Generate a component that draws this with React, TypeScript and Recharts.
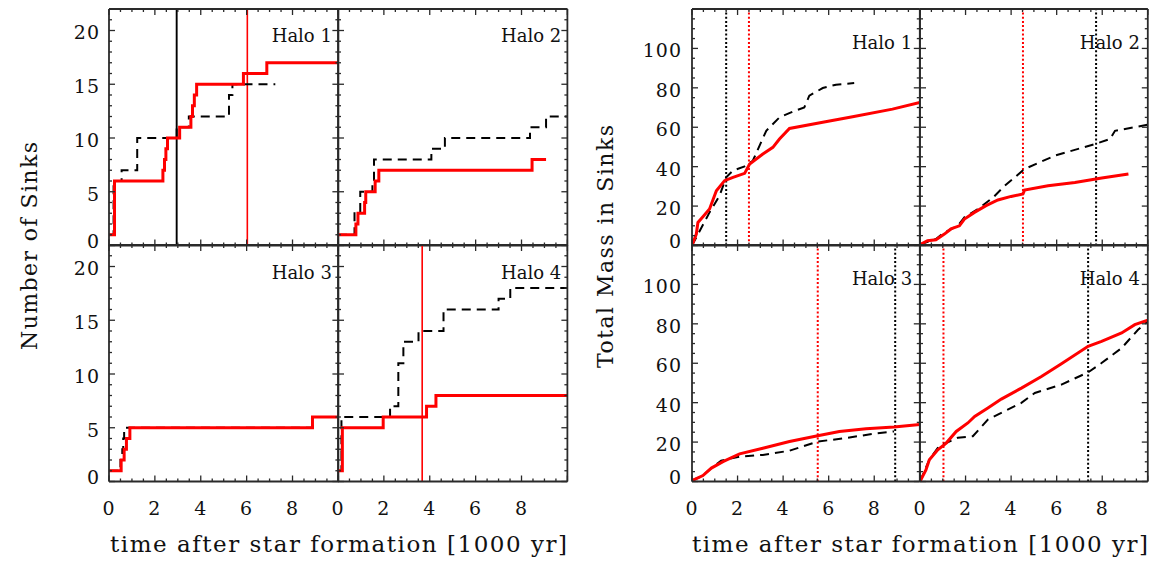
import React from "react";
import { LineChart, Line, XAxis, YAxis, ReferenceLine } from "recharts";

const FONT = '"DejaVu Serif", "Liberation Serif", serif';
const RED = "#ff0000";
const BLACK = "#000000";
const AXIS = "#2a2a2a";

// ---------- tick values ----------
const timeTicks = [0, 0.5, 1, 1.5, 2, 2.5, 3, 3.5, 4, 4.5, 5, 5.5, 6, 6.5, 7, 7.5, 8, 8.5, 9, 9.5, 10];
const timeMajor = [0, 2, 4, 6, 8, 10];
const timeLabels = [0, 2, 4, 6, 8];
const sinkTicks = [0, 1, 2, 3, 4, 5, 6, 7, 8, 9, 10, 11, 12, 13, 14, 15, 16, 17, 18, 19, 20, 21, 22];
const sinkMajor = [0, 5, 10, 15, 20];
const sinkLabels = [0, 5, 10, 15, 20];
const massTicks = [0, 5, 10, 15, 20, 25, 30, 35, 40, 45, 50, 55, 60, 65, 70, 75, 80, 85, 90, 95, 100, 105, 110, 115, 120];
const massMajor = [0, 20, 40, 60, 80, 100, 120];
const massLabels = [0, 20, 40, 60, 80, 100];

const haloNames = ["Halo 1", "Halo 2", "Halo 3", "Halo 4"];
const xTitle = "time after star formation [1000 yr]";
const sinkTitle = "Number of Sinks";
const massTitle = "Total Mass in Sinks";

type Pt = [number, number];

// ---------- number of sinks (time [1000 yr], count) ----------
const sinksH1Red: Pt[] = [[0, 1], [0.24, 6], [2.35, 7], [2.42, 8], [2.48, 9], [2.55, 10], [3.08, 11], [3.57, 12], [3.64, 13], [3.72, 14], [3.82, 15], [5.86, 16], [6.88, 17], [10, 17]];
const sinksH1Black: Pt[] = [[0, 1], [0.2, 6], [0.55, 7], [1.23, 10], [2.95, 11], [3.48, 12], [5.23, 14], [5.38, 15], [7.25, 15]];
const sinksH2Red: Pt[] = [[0, 1], [0.78, 2], [0.87, 3], [1.16, 4], [1.21, 5], [1.62, 6], [1.78, 7], [8.46, 8], [9.07, 8]];
const sinksH2Black: Pt[] = [[0, 1], [0.72, 3], [0.97, 5], [1.5, 6], [1.57, 8], [4.07, 9], [4.66, 10], [8.37, 11], [9.07, 12], [10, 12]];
const sinksH3Red: Pt[] = [[0, 1], [0.53, 2], [0.66, 3], [0.76, 4], [0.91, 5], [8.87, 6], [10, 6]];
const sinksH3Black: Pt[] = [[0, 1], [0.5, 2], [0.58, 3], [0.62, 4], [0.66, 5], [8.87, 6], [10, 6]];
const sinksH4Red: Pt[] = [[0, 1], [0.19, 5], [1.97, 6], [3.86, 7], [4.27, 8], [10, 8]];
const sinksH4Black: Pt[] = [[0, 1], [0.15, 6], [2.27, 7], [2.63, 11], [2.85, 13], [3.51, 14], [4.6, 16], [7.0, 17], [7.51, 18], [10, 18]];

// ---------- total mass in sinks (time [1000 yr], mass) ----------
const massH1Red: Pt[] = [[0, 0], [0.19, 5.8], [0.26, 11.7], [0.48, 14.6], [0.77, 18.5], [1.07, 27.8], [1.43, 32.9], [1.8, 34.6], [2.31, 36.6], [2.53, 41.3], [3.11, 46.4], [3.55, 49.8], [3.84, 54.0], [4.28, 59.4], [5.74, 62.5], [7.05, 65.3], [8.8, 69.2], [10, 72.6]];
const massH1Black: Pt[] = [[0, 0], [0.77, 16.8], [1.21, 25.3], [1.5, 34.6], [1.8, 38.0], [2.31, 40.1], [2.67, 43.0], [3.26, 58.2], [3.84, 65.0], [4.42, 67.9], [4.93, 70.1], [5.15, 76.0], [5.74, 79.9], [6.32, 81.6], [7.12, 82.4]];
const massH2Red: Pt[] = [[0, 0.5], [0.33, 2.4], [0.7, 2.9], [1.07, 5.8], [1.36, 8.4], [1.73, 10.0], [1.95, 13.4], [2.39, 16.8], [2.9, 20.2], [3.42, 23.1], [4.0, 24.9], [4.52, 26.1], [4.59, 28.1], [5.62, 30.3], [6.8, 32.0], [7.98, 34.2], [9.15, 36.3]];
const massH2Black: Pt[] = [[0, 0.5], [0.7, 3.3], [1.07, 6.6], [1.66, 10.0], [1.95, 14.3], [2.54, 18.5], [3.21, 24.4], [3.72, 30.3], [4.59, 38.8], [5.92, 45.6], [7.68, 51.5], [8.34, 54.0], [8.56, 58.2], [10, 61.3]];
const massH3Red: Pt[] = [[0, 0.5], [0.48, 3.0], [0.85, 6.8], [1.36, 10.1], [2.09, 14.0], [3.11, 16.9], [4.28, 20.3], [5.52, 23.2], [6.47, 25.4], [7.64, 26.8], [8.87, 27.6], [10, 28.9]];
const massH3Black: Pt[] = [[0, 0.5], [0.48, 3.0], [0.85, 6.8], [1.28, 10.6], [2.09, 12.6], [3.11, 13.5], [4.28, 15.6], [5.52, 20.3], [6.76, 22.0], [7.93, 24.2], [8.87, 25.4]];
const massH4Red: Pt[] = [[0, 0], [0.26, 5.9], [0.41, 11.0], [0.78, 16.1], [1.15, 19.5], [1.59, 25.4], [2.1, 29.7], [2.4, 33.0], [2.98, 37.3], [3.57, 41.8], [4.45, 47.4], [5.33, 53.3], [6.21, 59.8], [7.38, 68.6], [7.97, 71.1], [8.85, 75.4], [9.43, 79.6], [10, 81.8]];
const massH4Black: Pt[] = [[0, 0], [0.41, 11.0], [0.83, 17.9], [1.66, 22.2], [2.32, 23.0], [2.98, 31.4], [4.45, 39.9], [5.04, 44.9], [6.21, 49.2], [7.38, 55.4], [7.97, 60.1], [8.85, 67.7], [9.57, 77.0], [10, 81.3]];

// vertical markers (time)
type VL = { t: number; color: string };
const sinksVLines: VL[][] = [
  [{ t: 2.95, color: BLACK }, { t: 6.03, color: RED }],
  [],
  [],
  [{ t: 3.67, color: RED }],
];
const massVLines: VL[][] = [
  [{ t: 1.5, color: BLACK }, { t: 2.5, color: RED }],
  [{ t: 4.52, color: RED }, { t: 7.73, color: BLACK }],
  [{ t: 5.52, color: RED }, { t: 8.92, color: BLACK }],
  [{ t: 1.03, color: RED }, { t: 7.38, color: BLACK }],
];

const sinksRed = [sinksH1Red, sinksH2Red, sinksH3Red, sinksH4Red];
const sinksBlack = [sinksH1Black, sinksH2Black, sinksH3Black, sinksH4Black];
const massRed = [massH1Red, massH2Red, massH3Red, massH4Red];
const massBlack = [massH1Black, massH2Black, massH3Black, massH4Black];

const toData = (pts: Pt[]) => pts.map(([t, v]) => ({ t, v }));

const TICK_FONT = 19;

const makeTick =
  (side: "bottom" | "top" | "left" | "right", major: number[], labels: number[], labelGap: number) =>
  (props: any) => {
    const { x, y, payload } = props;
    const v = payload && payload.value;
    const isMajor = major.indexOf(v) >= 0;
    const len = isMajor ? 6 : 3;
    let x2 = x;
    let y2 = y;
    if (side === "bottom") y2 = y - len;
    if (side === "top") y2 = y + len;
    if (side === "left") x2 = x + len;
    if (side === "right") x2 = x - len;
    let label: any = null;
    if (labels.indexOf(v) >= 0) {
      if (side === "bottom") {
        label = (
          <text x={x} y={y + 34} textAnchor="middle" fontFamily={FONT} fontSize={TICK_FONT} fill="#111" letterSpacing={1}>
            {v}
          </text>
        );
      } else if (side === "left") {
        label = (
          <text x={x - labelGap} y={y + 9 - (v === 0 ? 6 : 0)} textAnchor="end" fontFamily={FONT} fontSize={TICK_FONT} fill="#111" letterSpacing={1}>
            {v}
          </text>
        );
      }
    }
    return (
      <g>
        <line x1={x} y1={y} x2={x2} y2={y2} stroke={AXIS} strokeWidth={1.3} />
        {label}
      </g>
    );
  };

// outer space around each plot box (axes take 1px each, subtracted from margin)
const M = { top: 12, right: 12, bottom: 50, left: 70 };
const chartMargin = { top: M.top - 1, right: M.right - 1, bottom: M.bottom - 1, left: M.left - 1 };
const axisLine = { stroke: AXIS, strokeWidth: 1.8 };

type PanelProps = {
  left: number;
  top: number;
  w: number;
  h: number;
  mode: "sinks" | "mass";
  red: Pt[];
  black: Pt[];
  vlines: VL[];
  showX: boolean;
  showY: boolean;
};

function Panel(p: PanelProps) {
  const isSinks = p.mode === "sinks";
  const yTicks = isSinks ? sinkTicks : massTicks;
  const yMajor = isSinks ? sinkMajor : massMajor;
  const yLabels = isSinks ? sinkLabels : massLabels;
  const yDomain = isSinks ? [0, 22] : [0, 120];
  const lineType = isSinks ? "stepAfter" : "linear";
  const gap = isSinks ? 9 : 10;
  return (
    <div style={{ position: "absolute", left: p.left - M.left, top: p.top - M.top }}>
      <LineChart width={p.w + M.left + M.right} height={p.h + M.top + M.bottom} margin={chartMargin}>
        <XAxis
          xAxisId="b"
          dataKey="t"
          type="number"
          domain={[0, 10]}
          ticks={timeTicks}
          interval={0}
          height={1}
          tickSize={0}
          tickMargin={0}
          tickLine={false}
          axisLine={axisLine}
          allowDataOverflow
          tick={makeTick("bottom", timeMajor, p.showX ? timeLabels : [], 0)}
        />
        <XAxis
          xAxisId="t"
          orientation="top"
          dataKey="t"
          type="number"
          domain={[0, 10]}
          ticks={timeTicks}
          interval={0}
          height={1}
          tickSize={0}
          tickMargin={0}
          tickLine={false}
          axisLine={axisLine}
          allowDataOverflow
          tick={makeTick("top", timeMajor, [], 0)}
        />
        <YAxis
          yAxisId="l"
          type="number"
          domain={yDomain}
          ticks={yTicks}
          interval={0}
          width={1}
          tickSize={0}
          tickMargin={0}
          tickLine={false}
          axisLine={axisLine}
          allowDataOverflow
          tick={makeTick("left", yMajor, p.showY ? yLabels : [], gap)}
        />
        <YAxis
          yAxisId="r"
          orientation="right"
          type="number"
          domain={yDomain}
          ticks={yTicks}
          interval={0}
          width={1}
          tickSize={0}
          tickMargin={0}
          tickLine={false}
          axisLine={axisLine}
          allowDataOverflow
          tick={makeTick("right", yMajor, [], 0)}
        />
        {p.vlines.map((v, i) =>
          isSinks ? (
            <ReferenceLine key={i} xAxisId="b" yAxisId="l" x={v.t} stroke={v.color} strokeWidth={v.color === RED ? 1.6 : 1.9} />
          ) : (
            <ReferenceLine key={i} xAxisId="b" yAxisId="l" x={v.t} stroke={v.color} strokeWidth={2} strokeDasharray="2 2.2" />
          )
        )}
        <Line
          xAxisId="b"
          yAxisId="l"
          data={toData(p.black)}
          dataKey="v"
          type={lineType as any}
          stroke={BLACK}
          strokeWidth={2}
          strokeDasharray="9 6"
          dot={false}
          activeDot={false}
          isAnimationActive={false}
        />
        <Line
          xAxisId="b"
          yAxisId="l"
          data={toData(p.red)}
          dataKey="v"
          type={lineType as any}
          stroke={RED}
          strokeWidth={3}
          dot={false}
          activeDot={false}
          isAnimationActive={false}
        />
      </LineChart>
    </div>
  );
}

// layout
const LX = [108.5, 337.9];
const LW = 229.4;
const RX = [692.3, 920.1];
const RW = 227.8;
const PY = [8.5, 245];
const PH = 236.5;

export default function App() {
  const panels: any[] = [];
  for (let i = 0; i < 4; i++) {
    const col = i % 2;
    const row = Math.floor(i / 2);
    panels.push(
      <Panel
        key={"s" + i}
        left={LX[col]}
        top={PY[row]}
        w={LW}
        h={PH}
        mode="sinks"
        red={sinksRed[i]}
        black={sinksBlack[i]}
        vlines={sinksVLines[i]}
        showX={row === 1}
        showY={col === 0}
      />
    );
    panels.push(
      <Panel
        key={"m" + i}
        left={RX[col]}
        top={PY[row]}
        w={RW}
        h={PH}
        mode="mass"
        red={massRed[i]}
        black={massBlack[i]}
        vlines={massVLines[i]}
        showX={row === 1}
        showY={col === 0}
      />
    );
  }
  const haloLabels: any[] = [];
  for (let i = 0; i < 4; i++) {
    const col = i % 2;
    const row = Math.floor(i / 2);
    haloLabels.push(
      <text key={"hl" + i} x={LX[col] + LW - 6} y={PY[row] + 33.5} textAnchor="end" fontFamily={FONT} fontSize={18} fill="#111">
        {haloNames[i]}
      </text>
    );
    haloLabels.push(
      <text key={"hr" + i} x={RX[col] + RW - 8} y={PY[row] + 40} textAnchor="end" fontFamily={FONT} fontSize={18} fill="#111">
        {haloNames[i]}
      </text>
    );
  }
  return (
    <div style={{ position: "absolute", left: 0, top: 0, width: 1158, height: 563, background: "#fff", overflow: "hidden" }}>
      {panels}
      <svg width={1158} height={563} style={{ position: "absolute", left: 0, top: 0, pointerEvents: "none" }}>
        {haloLabels}
        <text x={338.5} y={552} textAnchor="middle" fontFamily={FONT} fontSize={23} fill="#111" textLength={457} lengthAdjust="spacing">
          {xTitle}
        </text>
        <text x={920} y={552} textAnchor="middle" fontFamily={FONT} fontSize={23} fill="#111" textLength={456} lengthAdjust="spacing">
          {xTitle}
        </text>
        <text transform="translate(37,246) rotate(-90)" textAnchor="middle" fontFamily={FONT} fontSize={22} fill="#111" textLength={208} lengthAdjust="spacing">
          {sinkTitle}
        </text>
        <text transform="translate(613,246.5) rotate(-90)" textAnchor="middle" fontFamily={FONT} fontSize={22} fill="#111" textLength={243} lengthAdjust="spacing">
          {massTitle}
        </text>
      </svg>
    </div>
  );
}
